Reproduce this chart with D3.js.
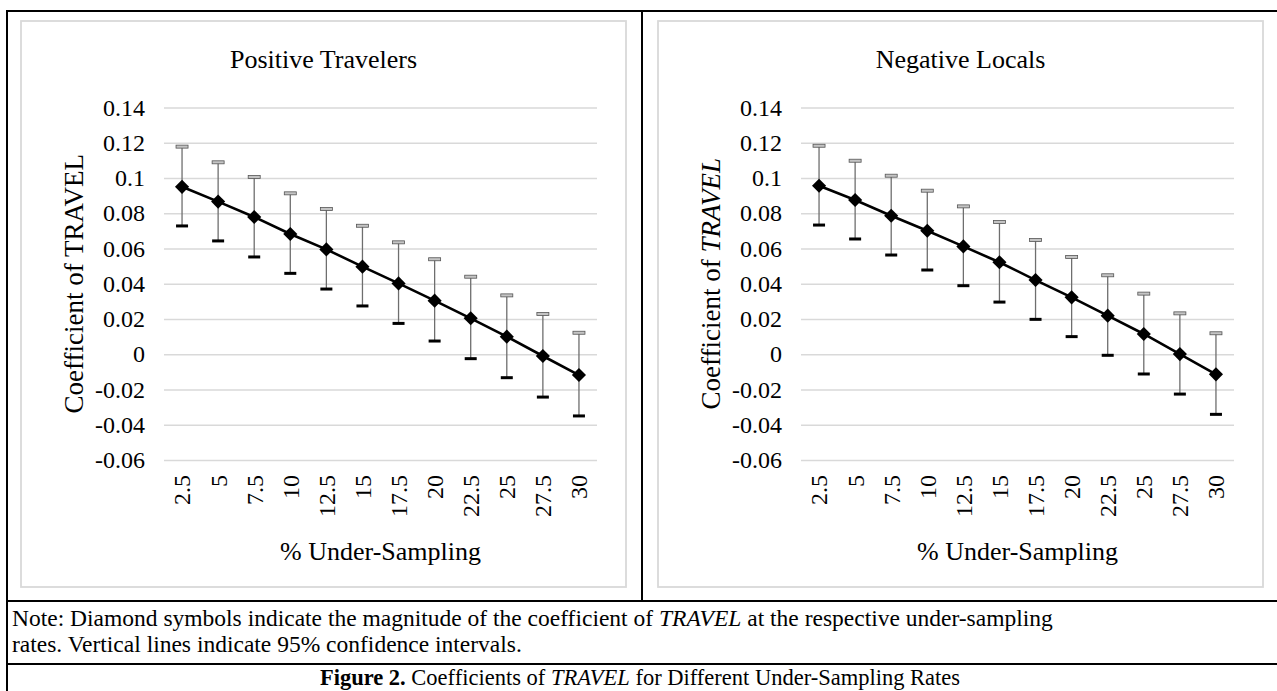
<!DOCTYPE html>
<html>
<head>
<meta charset="utf-8">
<script src="https://cdn.jsdelivr.net/npm/d3@7"></script>
<style>
  body { margin: 0; background: #fff; }
  text { font-family: "Liberation Serif", "Times New Roman", serif; fill: #000; }
</style>
</head>
<body>
<div id="fig"></div>
<script>
// under-sampling rates (%)
const rates = ["2.5", "5", "7.5", "10", "12.5", "15", "17.5", "20", "22.5", "25", "27.5", "30"];
const yTicks = [0.14, 0.12, 0.1, 0.08, 0.06, 0.04, 0.02, 0, -0.02, -0.04, -0.06];

// Positive Travelers
const travCoef = [0.0950, 0.0866, 0.0779, 0.0682, 0.0595, 0.0497, 0.0402, 0.0304, 0.0204, 0.0100, -0.0010, -0.0118];
const travHigh = [0.1178, 0.1089, 0.1006, 0.0913, 0.0824, 0.0729, 0.0635, 0.0539, 0.0440, 0.0334, 0.0228, 0.0122];
const travLow  = [0.0728, 0.0643, 0.0552, 0.0459, 0.0370, 0.0274, 0.0175, 0.0075, -0.0025, -0.0133, -0.0243, -0.0350];

// Negative Locals
const localCoef = [0.0956, 0.0875, 0.0786, 0.0701, 0.0612, 0.0522, 0.0421, 0.0323, 0.0219, 0.0115, 0.0001, -0.0114];
const localHigh = [0.1183, 0.1098, 0.1013, 0.0928, 0.0839, 0.0750, 0.0648, 0.0552, 0.0448, 0.0344, 0.0232, 0.0119];
const localLow  = [0.0733, 0.0654, 0.0563, 0.0478, 0.0389, 0.0296, 0.0198, 0.0100, -0.0006, -0.0112, -0.0226, -0.0341];

const W = 1277, H = 691;
const svg = d3.select("#fig").append("svg")
    .attr("width", W)
    .attr("height", H);

svg.append("rect").attr("width", W).attr("height", H).attr("fill", "#fff");

// table frame
const frame = svg.append("g").attr("stroke", "#000").attr("stroke-width", 2);
frame.append("line").attr("x1", 6).attr("x2", W).attr("y1", 11).attr("y2", 11);
frame.append("line").attr("x1", 7).attr("x2", 7).attr("y1", 10).attr("y2", H);
frame.append("line").attr("x1", 642).attr("x2", 642).attr("y1", 10).attr("y2", 601);
frame.append("line").attr("x1", 6).attr("x2", W).attr("y1", 601).attr("y2", 601);
frame.append("line").attr("x1", 6).attr("x2", W).attr("y1", 664).attr("y2", 664);

function drawChart(bx, title, italicTravel, coef, high, low) {
    const box = { w: 605, h: 566 };
    const g = svg.append("g").attr("transform", `translate(${bx}, 21)`);

    g.append("rect")
        .attr("width", box.w)
        .attr("height", box.h)
        .attr("fill", "#fff")
        .attr("stroke", "#d9d9d9")
        .attr("stroke-width", 1.8);

    const plot = { left: 143, right: 576, top: 86.5, bottom: 439 };

    const x = d3.scaleBand().domain(rates).range([plot.left, plot.right]);
    const y = d3.scaleLinear().domain([-0.06, 0.14]).range([plot.bottom, plot.top]);

    g.append("text")
        .attr("x", box.w / 2)
        .attr("y", 47)
        .attr("text-anchor", "middle")
        .style("font-size", "26px")
        .text(title);

    // y axis with gridlines
    const yAxis = g.append("g")
        .attr("transform", `translate(${plot.left}, 0)`)
        .call(d3.axisLeft(y)
            .tickValues(yTicks)
            .tickSize(-(plot.right - plot.left))
            .tickPadding(19)
            .tickFormat(d => String(+d.toFixed(2))));
    yAxis.select(".domain").remove();
    yAxis.selectAll(".tick line").attr("stroke", "#d9d9d9").attr("stroke-width", 1.6);
    yAxis.selectAll(".tick text")
        .style("font-size", "24px")
        .style("font-family", "'Liberation Serif', 'Times New Roman', serif");

    // x axis labels
    const xAxis = g.append("g")
        .attr("transform", `translate(0, ${plot.bottom})`)
        .call(d3.axisBottom(x).tickSize(0).tickPadding(0));
    xAxis.select(".domain").remove();
    xAxis.selectAll(".tick text")
        .attr("transform", "translate(0, 15) rotate(-90)")
        .attr("x", 0)
        .attr("y", 0)
        .attr("dy", "0.35em")
        .attr("text-anchor", "end")
        .style("font-size", "24px")
        .style("font-family", "'Liberation Serif', 'Times New Roman', serif");

    g.append("text")
        .attr("x", (plot.left + plot.right) / 2)
        .attr("y", 539)
        .attr("text-anchor", "middle")
        .style("font-size", "26px")
        .text("% Under-Sampling");

    const yt = g.append("text")
        .attr("transform", `translate(62, ${(plot.top + plot.bottom) / 2}) rotate(-90)`)
        .attr("text-anchor", "middle")
        .style("font-size", "27px");
    yt.append("tspan").text("Coefficient of ");
    yt.append("tspan").style("font-style", italicTravel ? "italic" : "normal").text("TRAVEL");

    const pts = rates.map((r, i) => ({ r, c: coef[i], hi: high[i], lo: low[i] }));
    const cx = d => x(d.r) + x.bandwidth() / 2;

    // error bars
    const eb = g.append("g");
    eb.selectAll(".stem").data(pts).enter().append("line")
        .attr("x1", cx).attr("x2", cx)
        .attr("y1", d => y(d.hi)).attr("y2", d => y(d.lo))
        .attr("stroke", "#6e6e6e")
        .attr("stroke-width", 1.3);
    eb.selectAll(".capHi").data(pts).enter().append("rect")
        .attr("x", d => cx(d) - 6).attr("y", d => y(d.hi) - 1.5)
        .attr("width", 12).attr("height", 3)
        .attr("fill", "#c4c4c4")
        .attr("stroke", "#555")
        .attr("stroke-width", 0.8);
    eb.selectAll(".capLo").data(pts).enter().append("rect")
        .attr("x", d => cx(d) - 6).attr("y", d => y(d.lo) - 1.5)
        .attr("width", 12).attr("height", 3)
        .attr("fill", "#000");

    // coefficient line
    g.append("path")
        .datum(pts)
        .attr("fill", "none")
        .attr("stroke", "#000")
        .attr("stroke-width", 2.6)
        .attr("d", d3.line().x(cx).y(d => y(d.c)));

    g.selectAll(".diamond").data(pts).enter().append("path")
        .attr("transform", d => `translate(${cx(d)}, ${y(d.c)}) rotate(45)`)
        .attr("d", d3.symbol(d3.symbolSquare, 100))
        .attr("fill", "#000");
}

drawChart(21, "Positive Travelers", false, travCoef, travHigh, travLow);
drawChart(658, "Negative Locals", true, localCoef, localHigh, localLow);

// note row
const note = svg.append("g").style("font-size", "23.5px");
const n1 = note.append("text").attr("x", 12).attr("y", 626);
n1.append("tspan").text("Note: Diamond symbols indicate the magnitude of the coefficient of ");
n1.append("tspan").style("font-style", "italic").text("TRAVEL");
n1.append("tspan").text(" at the respective under-sampling");
note.append("text").attr("x", 12).attr("y", 652)
    .text("rates. Vertical lines indicate 95% confidence intervals.");

// caption row
const cap = svg.append("text")
    .attr("x", 640)
    .attr("y", 685)
    .attr("text-anchor", "middle")
    .style("font-size", "22.5px");
cap.append("tspan").style("font-weight", "bold").text("Figure 2.");
cap.append("tspan").text(" Coefficients of ");
cap.append("tspan").style("font-style", "italic").text("TRAVEL");
cap.append("tspan").text(" for Different Under-Sampling Rates");
</script>
</body>
</html>
